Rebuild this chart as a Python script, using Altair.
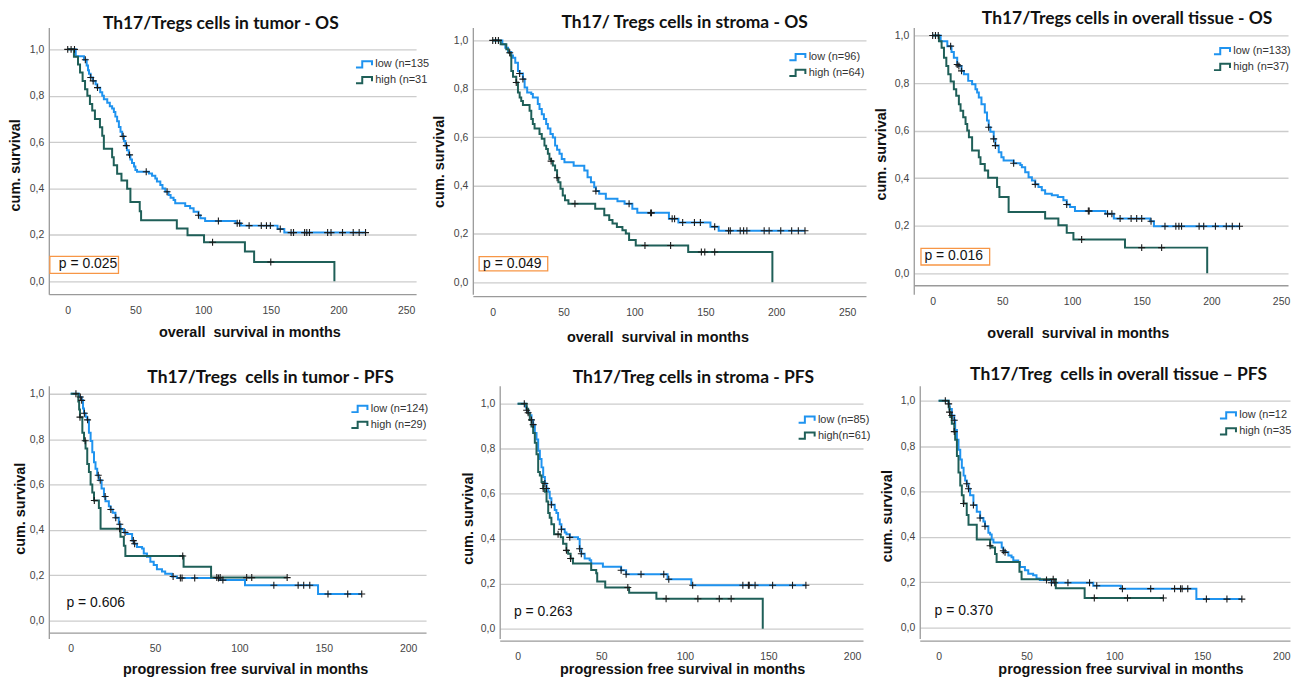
import altair as alt
import pandas as pd

# ---------------- data ----------------
# Panel 1: Th17/Tregs cells in tumor - OS
p1_low_t = [0, 5.9, 12.0, 14.0, 15.0, 15.7, 16.9, 18.6, 20.6, 21.8, 24.0, 25.5, 26.7, 29.2, 31.1, 32.8, 34.1, 35.2, 36.5, 37.8,
            39.0, 40.2, 41.5, 42.6, 43.8, 45.1, 46.3, 47.5, 49.0, 50.0, 51.2, 60.0, 62.3, 64.7, 65.9, 68.4, 70.0, 72.1, 74.5, 76.0,
            78.2, 79.4, 86.8, 90.4, 93.0, 96.6, 98.0, 101.5, 124.0, 128.0, 155.0, 160.0, 220.0]
p1_low_s = [1.0, 0.97, 0.955, 0.93, 0.91, 0.895, 0.879, 0.864, 0.85, 0.835, 0.815, 0.80, 0.785, 0.77, 0.755, 0.745, 0.73, 0.71, 0.69, 0.665,
            0.645, 0.625, 0.605, 0.585, 0.565, 0.545, 0.525, 0.51, 0.495, 0.48, 0.472, 0.465, 0.455, 0.443, 0.43, 0.415, 0.40, 0.386, 0.372, 0.36,
            0.35, 0.336, 0.325, 0.315, 0.30, 0.285, 0.272, 0.26, 0.25, 0.24, 0.225, 0.21, 0.21]
p1_low_cens = [0, 2.5, 5.0, 13.0, 17.0, 18.8, 22.0, 40.9, 43.3, 45.7, 58.0, 73.4, 96.6, 111.3, 125.2, 127.0, 134.0, 143.0, 146.8,
               149.7, 157.0, 165.0, 166.8, 175.0, 176.6, 178.6, 192.0, 194.5, 203.0, 210.9, 215.3, 220.0]
p1_high_t = [0, 4.6, 7.6, 9.1, 11.0, 12.8, 14.5, 16.4, 18.1, 20.1, 23.8, 25.5, 26.7, 32.8, 34.0, 36.5, 39.7, 43.9, 46.3, 53.2,
             54.2, 80.6, 88.5, 100.7, 130.9, 137.7, 197.0]
p1_high_s = [1.0, 0.968, 0.935, 0.90, 0.864, 0.828, 0.80, 0.764, 0.736, 0.70, 0.664, 0.628, 0.571, 0.535, 0.50, 0.464, 0.435, 0.399, 0.342, 0.302,
             0.263, 0.228, 0.199, 0.168, 0.128, 0.083, 0.0]
p1_high_cens = [107.0, 150.0]

# Panel 2: Th17/ Tregs cells in stroma - OS
p2_low_t = [0, 6.8, 8.9, 10.8, 13.1, 14.3, 15.9, 17.8, 19.0, 21.3, 22.5, 24.3, 27.2, 28.3, 31.8, 33.0, 34.6, 36.1, 37.7, 38.9,
            40.7, 42.4, 44.0, 45.4, 47.1, 48.7, 50.6, 57.1, 64.6, 66.9, 69.3, 71.6, 72.8, 75.1, 79.8, 88.0, 93.0, 98.5, 102.0, 124.3,
            131.0, 153.6, 159.4, 220.3]
p2_low_s = [1.0, 0.984, 0.970, 0.952, 0.938, 0.928, 0.908, 0.874, 0.863, 0.840, 0.805, 0.785, 0.778, 0.764, 0.737, 0.716, 0.695, 0.675, 0.654, 0.636,
            0.613, 0.599, 0.565, 0.548, 0.531, 0.510, 0.496, 0.482, 0.462, 0.434, 0.414, 0.393, 0.377, 0.366, 0.345, 0.335, 0.325, 0.304, 0.287, 0.263,
            0.247, 0.230, 0.213, 0.213]
p2_low_cens = [0, 2.0, 4.0, 19.0, 21.3, 72.8, 96.2, 111.4, 112.0, 126.6, 128.3, 134.0, 142.3, 146.5, 156.6, 166.4, 167.6, 174.6,
               177.0, 179.3, 191.5, 195.0, 203.2, 210.9, 215.6, 220.3]
p2_high_t = [0, 5.6, 9.6, 11.2, 12.6, 13.1, 14.3, 16.6, 17.8, 19.0, 20.1, 21.3, 26.0, 27.2, 28.3, 29.5, 33.0, 34.6, 36.5, 37.7,
             38.9, 40.0, 41.2, 42.4, 44.0, 45.4, 46.3, 47.8, 49.4, 51.0, 53.4, 72.3, 78.7, 82.2, 84.5, 87.6, 91.5, 93.9, 96.2, 100.9,
             137.9, 197.3]
p2_high_s = [1.0, 0.984, 0.963, 0.949, 0.938, 0.874, 0.850, 0.826, 0.785, 0.764, 0.750, 0.733, 0.709, 0.675, 0.654, 0.636, 0.613, 0.593, 0.565, 0.551,
             0.531, 0.510, 0.501, 0.483, 0.463, 0.432, 0.414, 0.387, 0.359, 0.339, 0.325, 0.304, 0.277, 0.257, 0.243, 0.229, 0.215, 0.202, 0.175, 0.152,
             0.125, 0.0]
p2_high_cens = [12.0, 16.6, 41.2, 45.4, 58.0, 107.4, 125.5, 147.2, 149.6, 156.6]

# Panel 3: Th17/Tregs cells in overall tissue - OS
p3_low_t = [0, 5.7, 10.5, 13.5, 15.2, 17.6, 18.8, 20.7, 22.4, 25.5, 28.3, 30.7, 31.9, 33.1, 35.0, 37.4, 39.0, 40.2, 41.4, 43.8,
            45.0, 47.4, 49.3, 50.9, 58.1, 62.9, 64.0, 66.4, 68.8, 71.2, 73.6, 75.9, 78.3, 80.7, 85.5, 89.8, 93.8, 96.2, 98.6, 102.1,
            124.0, 130.0, 156.0, 158.8, 220.2]
p3_low_s = [1.0, 0.976, 0.955, 0.93, 0.906, 0.878, 0.872, 0.851, 0.837, 0.809, 0.795, 0.774, 0.760, 0.739, 0.711, 0.676, 0.642, 0.614, 0.595, 0.565,
            0.537, 0.509, 0.488, 0.474, 0.463, 0.455, 0.446, 0.425, 0.404, 0.390, 0.374, 0.363, 0.349, 0.335, 0.328, 0.321, 0.307, 0.289, 0.279, 0.262,
            0.25, 0.23, 0.219, 0.198, 0.198]
p3_low_cens = [0, 2.0, 4.0, 12.9, 17.6, 18.8, 20.7, 40.2, 43.8, 45.0, 58.1, 73.6, 96.2, 111.7, 112.3, 125.5, 128.6, 134.5, 142.4,
               146.4, 150.0, 156.7, 166.7, 174.5, 176.7, 178.6, 191.2, 194.5, 202.9, 210.7, 215.0, 220.2]
p3_high_t = [0, 4.5, 6.4, 8.1, 9.8, 11.2, 12.9, 15.2, 16.9, 18.8, 20.0, 21.9, 23.6, 24.8, 26.0, 28.3, 33.1, 34.3, 37.4, 39.8,
             46.2, 47.9, 54.5, 80.7, 90.2, 96.2, 101.0, 138.0, 197.0]
p3_high_s = [1.0, 0.976, 0.948, 0.906, 0.872, 0.837, 0.806, 0.774, 0.746, 0.711, 0.683, 0.656, 0.628, 0.600, 0.572, 0.516, 0.488, 0.460, 0.432, 0.402,
             0.363, 0.321, 0.258, 0.230, 0.202, 0.170, 0.142, 0.108, 0.0]
p3_high_cens = [106.9, 150.0, 164.3]

# Panel 4: Th17/Tregs  cells in tumor - PFS
p4_low_t = [0, 4.9, 6.5, 7.3, 7.9, 8.8, 9.8, 10.8, 11.8, 12.8, 13.8, 14.7, 15.7, 16.7, 18.3, 19.7, 20.6, 22.6, 23.6, 24.9,
            26.5, 28.5, 29.5, 31.5, 33.4, 36.4, 37.4, 39.3, 42.3, 43.3, 45.2, 47.2, 49.2, 51.1, 54.1, 56.0, 60.0, 63.0, 88.0, 103.3,
            146.6, 172.5]
p4_low_s = [1.0, 0.986, 0.971, 0.935, 0.914, 0.899, 0.885, 0.828, 0.792, 0.742, 0.698, 0.670, 0.641, 0.619, 0.583, 0.547, 0.526, 0.504, 0.490, 0.476,
            0.454, 0.425, 0.404, 0.389, 0.382, 0.353, 0.339, 0.325, 0.318, 0.296, 0.282, 0.260, 0.246, 0.227, 0.217, 0.207, 0.195, 0.188, 0.179, 0.156,
            0.118, 0.118]
p4_low_cens = [3.1, 5.7, 6.5, 8.1, 10.0, 16.3, 17.5, 20.4, 23.8, 26.7, 29.1, 32.2, 37.1, 37.9, 60.7, 65.0, 66.0, 73.5, 87.6, 90.2,
               120.4, 134.8, 138.1, 141.7, 152.5, 164.2, 172.5]
p4_high_t = [0, 4.5, 5.0, 5.5, 6.9, 7.9, 8.8, 9.8, 10.8, 11.8, 12.8, 13.8, 16.7, 17.7, 29.5, 31.5, 32.4, 66.9, 83.2, 128.3]
p4_high_s = [1.0, 0.966, 0.931, 0.897, 0.828, 0.793, 0.759, 0.69, 0.655, 0.60, 0.565, 0.53, 0.497, 0.405, 0.37, 0.33, 0.285, 0.238, 0.19, 0.19]
p4_high_cens = [5.5, 8.6, 14.0, 29.0, 66.4, 86.6, 88.6, 104.3, 107.3, 128.3]

# Panel 5: Th17/Treg cells in stroma - PFS
p5_low_t = [0, 4.8, 5.4, 6.3, 7.3, 8.3, 9.3, 10.3, 11.3, 12.3, 13.3, 14.3, 15.3, 16.3, 17.3, 18.3, 19.2, 20.2, 22.2, 23.2,
            24.2, 25.2, 26.2, 28.2, 29.2, 31.2, 36.1, 37.1, 38.1, 40.1, 43.1, 44.0, 51.0, 61.9, 64.9, 89.7, 103.9, 172.4]
p5_low_s = [1.0, 0.986, 0.971, 0.960, 0.949, 0.928, 0.907, 0.870, 0.841, 0.791, 0.754, 0.717, 0.674, 0.645, 0.623, 0.609, 0.580, 0.551, 0.528, 0.514,
            0.485, 0.464, 0.442, 0.428, 0.420, 0.406, 0.399, 0.355, 0.333, 0.312, 0.304, 0.290, 0.275, 0.260, 0.242, 0.220, 0.193, 0.193]
p5_low_cens = [4.0, 5.4, 6.3, 8.3, 9.3, 16.3, 17.3, 20.2, 26.2, 31.2, 37.1, 38.1, 61.9, 64.9, 73.8, 87.4, 90.4, 104.7, 134.7,
               138.0, 138.5, 142.0, 152.5, 164.4, 172.4]
p5_high_t = [0, 5.4, 6.3, 7.3, 8.3, 9.3, 10.3, 11.3, 12.3, 13.3, 14.3, 15.3, 16.3, 17.3, 18.3, 19.2, 20.2, 21.8, 25.8, 27.2,
             29.2, 30.2, 31.7, 33.1, 44.0, 47.0, 47.6, 52.4, 66.7, 83.0, 146.6]
p5_high_s = [1.0, 0.978, 0.957, 0.928, 0.899, 0.870, 0.826, 0.775, 0.696, 0.681, 0.652, 0.623, 0.609, 0.565, 0.514, 0.493, 0.464, 0.420, 0.406, 0.377,
             0.348, 0.333, 0.312, 0.290, 0.261, 0.246, 0.210, 0.183, 0.160, 0.133, 0.0]
p5_high_cens = [15.3, 24.2, 29.2, 31.7, 65.9, 88.8, 107.8, 120.6, 127.7]

# Panel 6: Th17/Treg  cells in overall tissue – PFS
p6_low_t = [0, 5.7, 6.2, 7.5, 8.9, 9.4, 10.4, 11.3, 12.3, 13.2, 14.2, 15.1, 16.0, 17.0, 17.9, 19.8, 21.7, 23.6, 25.5, 26.4,
            28.3, 29.3, 30.2, 31.2, 35.9, 36.8, 37.8, 39.7, 41.5, 42.5, 45.3, 46.3, 49.1, 51.0, 53.8, 55.7, 57.6, 64.2, 88.0, 103.7,
            146.7, 172.6]
p6_low_s = [1.0, 0.986, 0.964, 0.935, 0.914, 0.871, 0.828, 0.784, 0.741, 0.705, 0.670, 0.648, 0.634, 0.612, 0.583, 0.540, 0.511, 0.483, 0.468, 0.447,
            0.418, 0.411, 0.389, 0.375, 0.353, 0.339, 0.332, 0.318, 0.310, 0.296, 0.289, 0.267, 0.253, 0.238, 0.231, 0.217, 0.210, 0.198, 0.185, 0.172,
            0.126, 0.126]
p6_low_cens = [3.8, 5.7, 7.5, 8.9, 16.0, 17.0, 19.8, 23.6, 26.4, 36.8, 37.8, 61.4, 64.2, 66.1, 73.6, 85.9, 90.0, 104.6, 120.7,
               134.3, 137.7, 138.6, 141.8, 152.4, 164.1, 172.6]
p6_high_t = [0, 5.7, 6.2, 6.6, 7.5, 8.9, 9.4, 10.4, 11.3, 12.3, 13.2, 14.2, 16.0, 17.0, 21.7, 29.3, 30.2, 32.1, 33.0, 46.0,
             47.2, 66.7, 83.1, 127.9]
p6_high_s = [1.0, 0.971, 0.950, 0.928, 0.899, 0.864, 0.828, 0.756, 0.684, 0.627, 0.583, 0.547, 0.497, 0.454, 0.389, 0.361, 0.353, 0.325, 0.289, 0.246,
             0.213, 0.174, 0.131, 0.131]
p6_high_cens = [6.2, 8.9, 14.2, 29.3, 65.2, 88.6, 107.5, 127.9]

NB = "\u00a0"  # keeps the double spaces of the original texts
titles = ["Th17/Tregs cells in tumor - OS", "Th17/ Tregs cells in stroma - OS", "Th17/Tregs cells in overall tissue - OS",
          "Th17/Tregs" + NB + " cells in tumor - PFS", "Th17/Treg cells in stroma - PFS",
          "Th17/Treg" + NB + " cells in overall tissue \u2013 PFS"]
legend_labels = [("low (n=135", "high (n=31"), ("low (n=96)", "high (n=64)"), ("low (n=133)", "high (n=37)"),
                 ("low (n=124)", "high (n=29)"), ("low (n=85)", "high(n=61)"), ("low (n=12", "high (n=35")]
p_values = ["p = 0.025", "p = 0.049", "p = 0.016", "p = 0.606", "p = 0.263", "p = 0.370"]
x_titles = ["overall" + NB + " survival in months"] * 3 + ["progression free survival in months"] * 3
os_ticks = [0, 50, 100, 150, 200, 250]
pfs_ticks = [0, 50, 100, 150, 200]
y_ticks = [0.0, 0.2, 0.4, 0.6, 0.8, 1.0]

# ---------------- styling / layout ----------------
BLUE = "#1f93ef"
GREEN = "#1f5f58"
ORANGE = "#f79646"
STEP = "M-1.2,0.45H-0.3V-0.45H1.1V0.15"
CROSS = "M-1,0H1M0,-1V1"

# L/R: left/right layout extents (px) that place the panels side by side; B: bottom extent of row 1
layout = [
    dict(w=369, h=268, xdom=[-13.97, 257.35], ydom=[-0.0558, 1.0944], ticks=os_ticks, xoff=0, xtx=201.5, xty=38,
         ytx=-33, yty=138, lx=309, ly=29, tdx=-11.7, tdy=5, ptx=(-6.6, 0.073), box=(-13.2, 37.5, 0.034, 0.107),
         L=40, R=385, B=320, flush=False),
    dict(w=395, h=268, xdom=[-14.04, 263.34], ydom=[-0.0494, 1.0535], ticks=os_ticks, xoff=2, xtx=185.5, xty=41,
         ytx=-33, yty=134.5, lx=318.4, ly=21.7, tdx=15.3, tdy=4, ptx=(-6.8, 0.076), box=(-9.6, 38.8, 0.047, 0.106),
         L=41, R=396, B=320, flush=False),
    dict(w=376, h=268, xdom=[-13.57, 255.0], ydom=[-0.0879, 1.0335], ticks=os_ticks, xoff=-9, xtx=164.8, xty=48,
         ytx=-32.7, yty=127, lx=302, ly=15.7, tdx=26.3, tdy=0, ptx=(-5.9, 0.071), box=(-8.4, 40.9, 0.035, 0.105),
         L=47, R=None, B=320, flush=False),
    dict(w=379, h=254, xdom=[-12.98, 210.62], ydom=[-0.0789, 1.0351], ticks=pfs_ticks, xoff=-6, xtx=197.3, xty=37,
         ytx=-28.5, yty=123, lx=304.4, ly=15.3, tdx=33.3, tdy=1, ptx=(-2.5, 0.076), box=None,
         L=40, R=381, B=None, flush=False),
    dict(w=365, h=254, xdom=[-10.71, 206.55], ydom=[-0.0442, 1.0796], ticks=pfs_ticks, xoff=2, xtx=183.3, xty=29,
         ytx=-31, yty=133, lx=300.7, ly=26, tdx=12, tdy=1, ptx=(-2.2, 0.073), box=None,
         L=71, R=372, B=None, flush=False),
    dict(w=372, h=254, xdom=[-10.76, 200.0], ydom=[-0.0482, 1.0658], ticks=pfs_ticks, xoff=2, xtx=201.7, xty=29,
         ytx=-32.7, yty=130.5, lx=302, ly=21.7, tdx=13.8, tdy=-2, ptx=(-2.3, 0.075), box=None,
         L=49, R=None, B=None, flush=True),
]

curves = [
    (p1_low_t, p1_low_s, p1_low_cens, p1_high_t, p1_high_s, p1_high_cens),
    (p2_low_t, p2_low_s, p2_low_cens, p2_high_t, p2_high_s, p2_high_cens),
    (p3_low_t, p3_low_s, p3_low_cens, p3_high_t, p3_high_s, p3_high_cens),
    (p4_low_t, p4_low_s, p4_low_cens, p4_high_t, p4_high_s, p4_high_cens),
    (p5_low_t, p5_low_s, p5_low_cens, p5_high_t, p5_high_s, p5_high_cens),
    (p6_low_t, p6_low_s, p6_low_cens, p6_high_t, p6_high_s, p6_high_cens),
]


def level_at(c, t, s):
    # survival level of the step curve at censoring time c
    v = s[0]
    for ti, si in zip(t, s):
        if ti <= c:
            v = si
    return v


def anchor(px, py):
    # invisible point that fixes the panel's layout extent
    return alt.Chart(pd.DataFrame({"a": [0]})).mark_point(filled=True, size=1, opacity=0).encode(
        x=alt.value(px), y=alt.value(py))


def panel(i):
    cfg = layout[i]
    lt, ls, lc, ht, hs, hc = curves[i]
    lo, hi = legend_labels[i]
    lines = pd.concat([pd.DataFrame({"t": lt, "s": ls, "g": lo}),
                       pd.DataFrame({"t": ht, "s": hs, "g": hi})], ignore_index=True)
    cens = pd.DataFrame({"t": list(lc) + list(hc),
                         "s": [level_at(c, lt, ls) for c in lc] + [level_at(c, ht, hs) for c in hc]})
    xs = alt.Scale(domain=cfg["xdom"], nice=False, zero=False)
    ys = alt.Scale(domain=cfg["ydom"], nice=False, zero=False)
    xaxis = alt.Axis(values=cfg["ticks"], title=x_titles[i], grid=False, ticks=False, tickSize=0, labelPadding=11,
                     offset=cfg["xoff"], titleX=cfg["xtx"], titleY=cfg["xty"], titleAlign="center",
                     titleBaseline="middle", labelFlush=cfg["flush"])
    yaxis = alt.Axis(values=y_ticks, title="cum. survival", grid=True, ticks=False, tickSize=0, labelPadding=5,
                     labelExpr="replace(format(datum.value, '.1f'), '.', ',')", titleX=cfg["ytx"], titleY=cfg["yty"],
                     titleAngle=270, titleAlign="center", titleBaseline="middle")
    X = alt.X("t:Q", scale=xs, axis=xaxis)
    Y = alt.Y("s:Q", scale=ys, axis=yaxis)

    layers = []
    if cfg["box"] is not None:
        x1, x2, y1, y2 = cfg["box"]
        layers.append(alt.Chart(pd.DataFrame({"t": [x1], "t2": [x2], "s": [y1], "s2": [y2]}))
                      .mark_rect(fill="white", stroke=ORANGE, strokeWidth=1.3)
                      .encode(x=X, x2="t2:Q", y=Y, y2="s2:Q"))
    layers.append(alt.Chart(lines).mark_line(interpolate="step-after", strokeWidth=2).encode(
        x=X, y=Y,
        color=alt.Color("g:N", sort=[lo, hi], scale=alt.Scale(domain=[lo, hi], range=[BLUE, GREEN]),
                        legend=alt.Legend(title=None, orient="none", legendX=cfg["lx"], legendY=cfg["ly"],
                                          symbolType=STEP, symbolSize=196, symbolStrokeWidth=2,
                                          symbolFillColor="transparent", labelFont="Liberation Sans",
                                          labelFontSize=11, labelColor="#333333", labelOffset=3,
                                          rowPadding=0, padding=0))))
    layers.append(alt.Chart(cens).mark_point(shape=CROSS, size=49, filled=False, color="#1a1a1a",
                                             strokeWidth=1.1, opacity=1).encode(x=X, y=Y))
    px, py = cfg["ptx"]
    layers.append(alt.Chart(pd.DataFrame({"t": [px], "s": [py], "label": [p_values[i]]}))
                  .mark_text(align="left", baseline="middle", font="Liberation Sans", fontSize=14, color="#111111")
                  .encode(x=X, y=Y, text="label:N"))
    # layout extents
    layers.append(anchor(-(cfg["L"] - 0.6), cfg["h"] / 2))
    if cfg["R"] is not None:
        layers.append(anchor(cfg["R"] - 0.6, cfg["h"] / 2))
    if cfg["B"] is not None:
        layers.append(anchor(cfg["w"] / 2, cfg["B"] - 0.6))
    return alt.layer(*layers).properties(
        width=cfg["w"], height=cfg["h"],
        title=alt.TitleParams(titles[i], font="Lato", fontSize=17.5, fontWeight="bold", color="#111111",
                              anchor="middle", frame="group", offset=0, dx=cfg["tdx"], dy=cfg["tdy"]))


indep = dict(color="independent", x="independent", y="independent")
row1 = alt.hconcat(panel(0), panel(1), panel(2), spacing=0).resolve_scale(**indep)
row2 = alt.hconcat(panel(3), panel(4), panel(5), spacing=0).resolve_scale(**indep)

chart = alt.vconcat(row1, row2, spacing=20).resolve_scale(**indep).properties(
    padding=0, background="white").configure_view(stroke=None).configure_axis(
    labelFont="Liberation Sans", labelFontSize=10.5, labelColor="#444444",
    domainColor="#9a9a9a", domainWidth=1.3, gridColor="#cccccc", gridWidth=1.3,
    titleFont="Liberation Sans", titleFontSize=14.5, titleFontWeight="bold", titleColor="#111111")

chart.save("out.html", embed_options={"renderer": "svg", "actions": False})
